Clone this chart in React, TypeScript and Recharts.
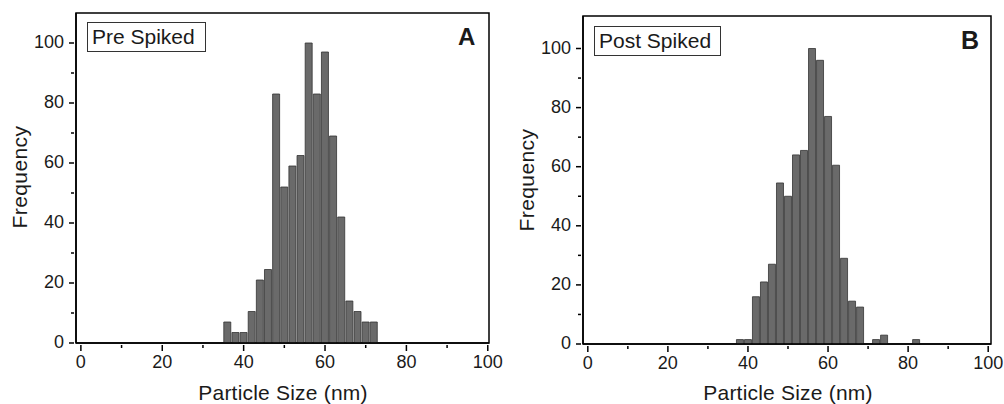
import React from 'react';
import { BarChart, Bar, XAxis, YAxis, ReferenceArea } from 'recharts';

// bin centres (nm), 2 nm wide bins
const binsPre = [36, 38, 40, 42, 44, 46, 48, 50, 52, 54, 56, 58, 60, 62, 64, 66, 68, 70, 72];
const freqPre = [7, 3.5, 3.5, 10.5, 21, 24.5, 83, 52, 59, 62.5, 100, 83, 97, 69, 42, 14, 10.5, 7, 7];

const binsPost = [38, 40, 42, 44, 46, 48, 50, 52, 54, 56, 58, 60, 62, 64, 66, 68, 70, 72, 74, 76, 78, 80, 82];
const freqPost = [1.5, 1.5, 16, 21, 27, 54.5, 50, 64, 65.5, 100, 96, 77, 60.5, 29, 14.5, 12.5, 0, 1.5, 3, 0, 0, 0, 1.5];

const xTicks = [0, 10, 20, 30, 40, 50, 60, 70, 80, 90, 100];
const yTicks = [0, 10, 20, 30, 40, 50, 60, 70, 80, 90, 100];

const FONT = '"Liberation Sans", Arial, Helvetica, sans-serif';
const INK = '#1a1a1a';

const XTick = (props: any) => {
  const { x, y, payload } = props;
  const major = payload.value % 20 === 0;
  return (
    <g>
      <line x1={x} x2={x} y1={y} y2={y + (major ? 6 : 3)} stroke="#000" strokeWidth={1.5} />
      {major && (
        <text x={x} y={y + 23} textAnchor="middle" fontSize={18} fill={INK} fontFamily={FONT}>
          {payload.value}
        </text>
      )}
    </g>
  );
};

const YTick = (props: any) => {
  const { x, y, payload } = props;
  const major = payload.value % 20 === 0;
  return (
    <g>
      <line x1={x} x2={x - (major ? 5 : 3)} y1={y} y2={y} stroke="#000" strokeWidth={1.5} />
      {major && (
        <text x={x - 10} y={y + 5} textAnchor="end" fontSize={18} fill={INK} fontFamily={FONT}>
          {payload.value}
        </text>
      )}
    </g>
  );
};

interface PanelProps {
  bins: number[];
  freq: number[];
  width: number;
  margin: { top: number; right: number; left: number; bottom: number };
  xDomain: [number, number];
  yMax: number;
}

function Panel({ bins, freq, width, margin, xDomain, yMax }: PanelProps) {
  const data = bins.map((b, i) => ({ size: b, freq: freq[i] }));
  return (
    <BarChart width={width} height={404} data={data} margin={margin} barCategoryGap={0.5} barGap={0}>
      <XAxis
        type="number"
        dataKey="size"
        domain={xDomain}
        allowDataOverflow
        ticks={xTicks}
        interval={0}
        tickSize={0}
        tickLine={false}
        tick={<XTick />}
        axisLine={{ stroke: '#000', strokeWidth: 1.5 }}
        height={30}
      />
      <YAxis
        type="number"
        domain={[0, yMax]}
        allowDataOverflow
        ticks={yTicks}
        interval={0}
        tickSize={0}
        tickLine={false}
        tick={<YTick />}
        axisLine={{ stroke: '#000', strokeWidth: 1.5 }}
        width={60}
      />
      <Bar dataKey="freq" fill="#6a6a6a" stroke="#333" strokeWidth={0.8} isAnimationActive={false} />
      <ReferenceArea
        x1={xDomain[0]}
        x2={xDomain[1]}
        y1={0}
        y2={yMax}
        fill="none"
        fillOpacity={0}
        stroke="#000"
        strokeWidth={1.5}
        ifOverflow="visible"
      />
    </BarChart>
  );
}

const abs = (left: number, top: number): React.CSSProperties => ({
  position: 'absolute',
  left,
  top,
  fontFamily: FONT,
  color: INK,
  whiteSpace: 'nowrap',
});

export default function App() {
  return (
    <div style={{ position: 'absolute', left: 0, top: 0, width: 1004, height: 404, background: '#fff' }}>
      <style>{'.recharts-surface, .recharts-wrapper { overflow: visible !important; }'}</style>
      <div style={{ position: 'absolute', left: 0, top: 0 }}>
        <Panel
          bins={binsPre}
          freq={freqPre}
          width={500}
          margin={{ top: 13, right: 11, left: 16, bottom: 31 }}
          xDomain={[-1.2, 100.3]}
          yMax={110}
        />
      </div>
      <div style={{ position: 'absolute', left: 502, top: 0 }}>
        <Panel
          bins={binsPost}
          freq={freqPost}
          width={502}
          margin={{ top: 16, right: 13, left: 21, bottom: 30 }}
          xDomain={[-1.2, 100.7]}
          yMax={111}
        />
      </div>

      {/* legend boxes */}
      <div
        style={{
          ...abs(87, 22),
          width: 113,
          height: 28,
          border: '1.5px solid #333',
          fontSize: 21,
          lineHeight: '28px',
          paddingLeft: 4,
        }}
      >
        Pre Spiked
      </div>
      <div
        style={{
          ...abs(594, 26),
          width: 121,
          height: 28,
          border: '1.5px solid #333',
          fontSize: 21,
          lineHeight: '28px',
          paddingLeft: 4,
        }}
      >
        Post Spiked
      </div>

      {/* panel letters */}
      <div style={{ ...abs(458, 23), fontSize: 24, fontWeight: 'bold', lineHeight: '28px' }}>A</div>
      <div style={{ ...abs(961, 26), fontSize: 25, fontWeight: 'bold', lineHeight: '28px' }}>B</div>

      {/* axis titles */}
      <div style={{ ...abs(19.5, 176.5), fontSize: 21, letterSpacing: 0.4, transform: 'translate(-50%, -50%) rotate(-90deg)' }}>
        Frequency
      </div>
      <div style={{ ...abs(527, 180), fontSize: 21, letterSpacing: 0.4, transform: 'translate(-50%, -50%) rotate(-90deg)' }}>
        Frequency
      </div>
      <div style={{ ...abs(283, 393), fontSize: 21, letterSpacing: 0.2, transform: 'translate(-50%, -50%)' }}>
        Particle Size (nm)
      </div>
      <div style={{ ...abs(788, 393), fontSize: 21, letterSpacing: 0.2, transform: 'translate(-50%, -50%)' }}>
        Particle Size (nm)
      </div>
    </div>
  );
}
